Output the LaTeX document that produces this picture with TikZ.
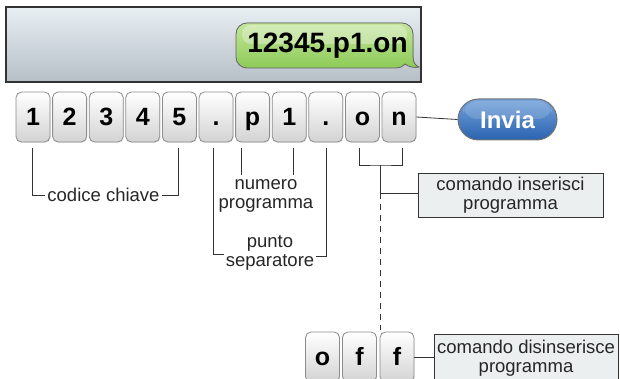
\documentclass[tikz,border=0pt]{standalone}
\usepackage{fontspec}
\setmainfont{Liberation Sans}
\usetikzlibrary{shapes.misc,calc,shadows}
\definecolor{keybot}{HTML}{D3D3D3}
\definecolor{keyborder}{HTML}{8C8C8C}
\definecolor{linec}{HTML}{333333}
\definecolor{boxfill}{HTML}{ECEFF0}
\definecolor{scrtop}{HTML}{E8EFF3}
\definecolor{scrbot}{HTML}{B5BFC6}
\definecolor{gtop}{HTML}{C4E59C}
\definecolor{gbot}{HTML}{8DCB57}
\definecolor{btop}{HTML}{74A2DB}
\definecolor{bbot}{HTML}{2A63B0}
\begin{document}
\begin{tikzpicture}[x=1pt,y=-1pt,
  keybox/.style={draw=keyborder, line width=0.8pt, rounded corners=5.5pt,
    minimum width=34pt, minimum height=50pt, inner sep=0pt,
    top color=white, bottom color=keybot,
    drop shadow={opacity=0.2, shadow xshift=0.6pt, shadow yshift=-1pt},
    font=\fontsize{25}{25}\selectfont\bfseries, text height=17.5pt, text depth=0pt},
  lbl/.style={font=\fontsize{18.5}{19}\selectfont, text=black!85, align=center, inner sep=2pt},
  infobox/.style={draw=linec, line width=0.8pt, fill=boxfill, lbl, minimum width=185pt, minimum height=44pt},
  conn/.style={draw=linec, line width=0.8pt}
]
\useasboundingbox (0,0) rectangle (620,379);
\clip (0,0) rectangle (620,379);

% screen
\path[draw=black!80, line width=1.5pt, top color=scrtop, bottom color=scrbot] (6,7) rectangle (421,82);
% bubble
\filldraw[draw=black!60, line width=0.8pt, top color=gtop, bottom color=gbot]
  (236,45) [rounded corners=11pt] |- (413,23) [sharp corners] -- (413,57)
  .. controls (413,63) and (416,66) .. (419,67)
  .. controls (414,68) and (409,67) .. (405,64)
  .. controls (402,67) and (399,68) .. (396,68)
  [rounded corners=11pt] -| (236,45) -- cycle;
\fill[white, opacity=0.3, rounded corners=9pt] (242,25) rectangle (407,44);
\node[font=\fontsize{28}{28}\selectfont\bfseries, inner sep=0pt] (msg) at (327.5,46) {12345.p1.on};

% keys
\foreach \n/\t [count=\i from 0] in {k1/1,k2/2,k3/3,k4/4,k5/5,k6/.,k7/p,k8/1,k9/.,k10/o,k11/n}{
  \node[keybox] (\n) at ({33+36.6*\i},117) {\t};
}
% invia
\node[rounded rectangle, draw=black!55, line width=1pt, minimum width=99pt, minimum height=41pt,
  top color=btop, bottom color=bbot, text=white, font=\fontsize{24}{24}\selectfont\bfseries,
  inner sep=0pt] (invia) at (507.5,119.5) {Invia};
\fill[white, opacity=0.15, rounded corners=14pt] (463,101) rectangle (552,119);
\draw[conn] (k11.east) -- (invia.west);

% tick coordinates
\coordinate (t1) at (32,148);
\coordinate (t5) at (178,148);
\coordinate (t6) at (213,148);
\coordinate (t7) at (241,148);
\coordinate (t8) at (293,148);
\coordinate (t9) at (326,148);
\coordinate (t10) at (359,148);
\coordinate (t11) at (402,148);

% codice chiave
\node[lbl] (cc) at (103.5,195) {codice chiave};
\draw[conn] (t1) |- (cc.west);
\draw[conn] (t5) |- (cc.east);

% numero programma
\node[lbl] (np) at (266,196) {numero\\programma};
\draw[conn] (t7) -- (t7 |- 0,175);
\draw[conn] (t8) -- (t8 |- 0,175);

% punto separatore
\node[lbl] (ps) at (270,252.5) {punto\\separatore};
\draw[conn] (t6) |- ([yshift=-2pt]ps.west);
\draw[conn] (t9) |- ([yshift=-4pt]ps.east);

% comando inserisci
\coordinate (mid) at (380.5,165);
\draw[conn] (t10) |- (mid) -| (t11);
\node[infobox] (ins) at (510.5,195) {comando inserisci\\programma};
\coordinate (jn) at (380.5,193);
\draw[conn] (mid) -- (jn) -- (jn -| ins.west);

% off keys
\node[keybox] (o1) at (322.5,357) {o};
\node[keybox] (f1) at (359.5,357) {f};
\node[keybox] (f2) at (397,357) {f};
\draw[conn, dash pattern=on 6pt off 5pt] (jn) -- ([yshift=2pt]jn |- f2.north);
\node[infobox, minimum width=184pt, minimum height=48pt] (dis) at (526,358) {comando disinserisce\\programma};
\draw[conn] (f2.east) -- (f2.east -| dis.west);
\end{tikzpicture}
\end{document}
